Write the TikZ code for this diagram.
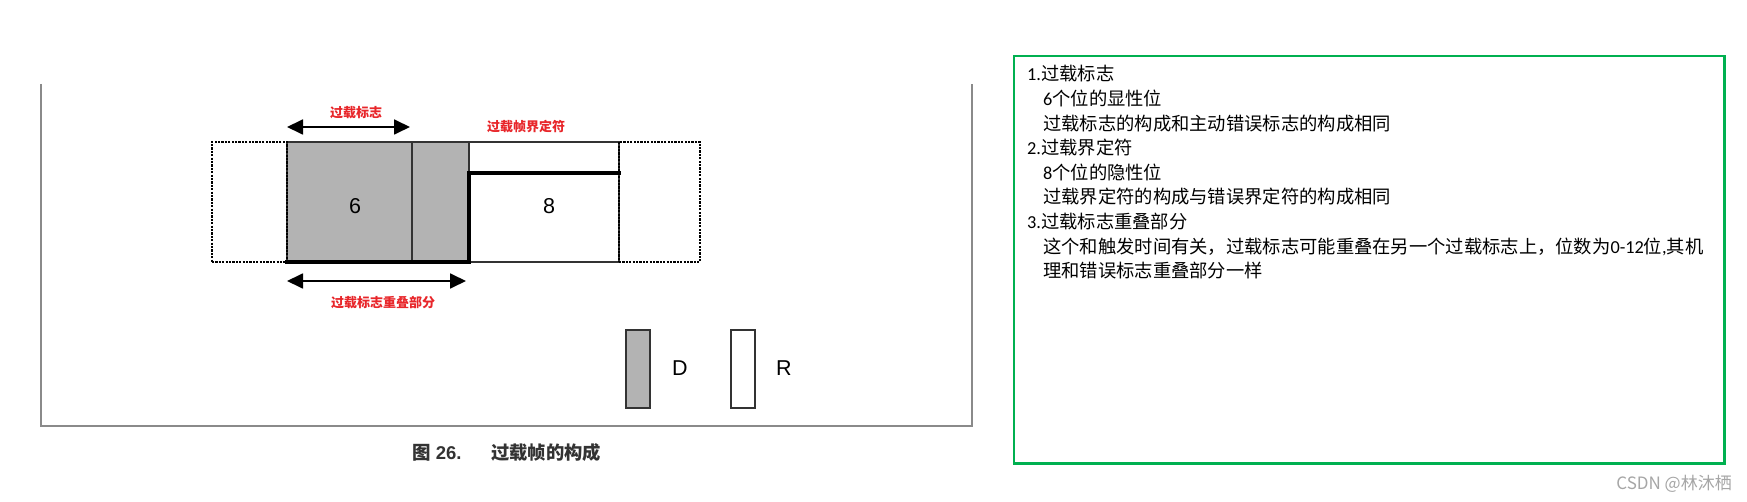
\documentclass[tikz,border=0pt]{standalone}
\usepackage{fontspec}
\setmainfont{Liberation Sans}
\newfontfamily\cjk{Noto Sans CJK SC}
\newfontfamily\lat{Carlito}
\usetikzlibrary{arrows.meta}
\definecolor{boxgreen}{HTML}{00B050}
\definecolor{flaggray}{HTML}{B3B3B3}
\definecolor{framegray}{HTML}{8A8A8A}
\definecolor{labelred}{HTML}{E8262A}
\definecolor{capgray}{HTML}{333333}
\definecolor{wmgray}{HTML}{A6A6A6}
\tikzset{
  cell/.style={draw=black!80, line width=1.4pt, inner sep=0pt, outer sep=0pt, anchor=north west},
  dotbox/.style={draw=black, line width=2.8pt, dash pattern=on 2.2pt off 1.2pt, inner sep=0pt, outer sep=0pt, anchor=north west},
  thickline/.style={line width=4pt, line cap=rect},
  dimarrow/.style={{Triangle[length=16pt,width=15pt]}-{Triangle[length=16pt,width=15pt]}, line width=1.8pt},
  redlabel/.style={text=labelred, font=\cjk\bfseries\fontsize{13}{15}\selectfont, inner sep=0pt},
  bignum/.style={font=\fontsize{21.5}{24}\selectfont, inner sep=0pt},
  txt/.style={anchor=base west, inner sep=0pt, font=\cjk\fontsize{18.3}{22}\selectfont},
}
\begin{document}
\begin{tikzpicture}[x=1pt,y=-1pt]
\fill[white] (0,0) rectangle (1747,502);
\useasboundingbox (0,0) rectangle (1747,502);
% outer frame (open at top)
\draw[framegray, line width=2pt] (41,84) -- (41,426) -- (972,426) -- (972,84);
% cells
\node[cell, fill=flaggray, minimum width=125pt, minimum height=120pt] (six) at (287,142) {};
\node[cell, fill=flaggray, minimum width=57pt, minimum height=120pt] (ovl) at (412,142) {};
\node[cell, minimum width=150pt, minimum height=120pt] (eight) at (469,142) {};
\node[dotbox, minimum width=75pt, minimum height=120pt] (ldot) at (212,142) {};
\node[dotbox, minimum width=81pt, minimum height=120pt] (rdot) at (619,142) {};
% thick path
\coordinate (t1) at (287,262);
\coordinate (t2) at (469,262);
\coordinate (t3) at (469,173);
\coordinate (t4) at (619,173);
\draw[thickline] (t1) -- (t2) -- (t3) -- (t4);
\node[bignum] (n6) at (355,206) {6};
\node[bignum] (n8) at (549,206) {8};
% dimension arrows
\coordinate (a1) at (287,127);
\coordinate (a2) at (410,127);
\draw[dimarrow] (a1) -- (a2);
\node[redlabel] (lflag) at (356,113) {过载标志};
\node[redlabel] (ldelim) at (526,127) {过载帧界定符};
\coordinate (b1) at (287,281);
\coordinate (b2) at (466,281);
\draw[dimarrow] (b1) -- (b2);
\node[redlabel] (lovl) at (383,303) {过载标志重叠部分};
% legend
\node[cell, fill=flaggray, minimum width=24pt, minimum height=78pt] (legD) at (626,330) {};
\node[bignum] (tD) at (680,368) {D};
\node[cell, fill=white, minimum width=24pt, minimum height=78pt] (legR) at (731,330) {};
\node[bignum] (tR) at (784,368) {R};
% caption
\node[anchor=base west, inner sep=0pt, text=capgray, font=\bfseries\fontsize{18.5}{22}\selectfont] (cap1) at (412,459) {{\cjk 图} 26.};
\node[anchor=base west, inner sep=0pt, text=capgray, font=\cjk\bfseries\fontsize{18.3}{22}\selectfont] (cap2) at (491,459) {过载帧的构成};
% right text box
\draw[boxgreen, line width=2.4pt] (1014,56) rectangle (1724.5,463.5);
\node[txt] (l1) at (1027,81) {{\lat 1.}过载标志};
\node[txt] (l2) at (1043,105.6) {{\lat 6}个位的显性位};
\node[txt] (l3) at (1043,130.2) {过载标志的构成和主动错误标志的构成相同};
\node[txt] (l4) at (1027,154.8) {{\lat 2.}过载界定符};
\node[txt] (l5) at (1043,179.4) {{\lat 8}个位的隐性位};
\node[txt] (l6) at (1043,204) {过载界定符的构成与错误界定符的构成相同};
\node[txt] (l7) at (1027,228.6) {{\lat 3.}过载标志重叠部分};
\node[txt] (l8) at (1043,253.2) {这个和触发时间有关，过载标志可能重叠在另一个过载标志上，位数为{\lat 0-12}位{\lat ,}其机};
\node[txt] (l9) at (1043,277.8) {理和错误标志重叠部分一样};
% watermark
\node[anchor=base east, inner sep=0pt, text=wmgray, font=\cjk\fontsize{17}{20}\selectfont] (wm) at (1732,489) {CSDN @林沐栖};
\end{tikzpicture}
\end{document}
